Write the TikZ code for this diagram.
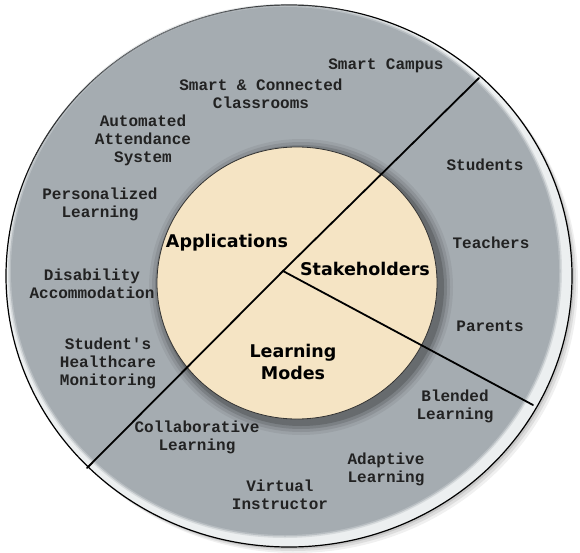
\documentclass[tikz,border=0pt]{standalone}
\usepackage{fontspec}
\newfontfamily\ringfont{Liberation Mono}
\newfontfamily\hubfont{DejaVu Sans}
\definecolor{ringgray}{RGB}{165,172,177}
\definecolor{hubbeige}{RGB}{245,228,196}
\definecolor{rimwhite}{RGB}{236,239,240}
\definecolor{inkdark}{RGB}{34,34,34}
\begin{document}
\begin{tikzpicture}[x=1pt,y=-1pt,
  item/.style={font=\ringfont\bfseries\fontsize{16}{18}\selectfont,text=inkdark,align=center,inner sep=0pt},
  hub/.style={font=\hubfont\bfseries\fontsize{17.5}{22}\selectfont,text=black,align=center,inner sep=0pt},
  spoke/.style={line width=1.8pt,line cap=round}]
  \useasboundingbox (0,0) rectangle (580,553);
  \foreach \s/\o in {6/0.06,4/0.08,2/0.1}
    \fill[black,opacity=\o] (289+\s,276+\s) ellipse [x radius=283,y radius=271];
  \fill[rimwhite,draw=black,line width=1.2pt] (289,276) ellipse [x radius=283,y radius=271];
  \foreach \s/\o in {3/0.3,1.5/0.6}
    \fill[ringgray,opacity=\o] (285,271) ellipse [x radius=274+\s,y radius=264+\s];
  \fill[ringgray] (285,271) ellipse [x radius=274,y radius=264];
  \foreach \s/\o in {12/0.06,9/0.09,6/0.12,3/0.16}
    \fill[black,opacity=\o] (301,287) ellipse [x radius=140+\s,y radius=136+\s];
  \fill[hubbeige,draw=black!80,line width=0.8pt] (297,283) ellipse [x radius=140,y radius=136];
  \coordinate (hub) at (283,271);
  \coordinate (ne) at (479,78);
  \coordinate (sw) at (87,468);
  \coordinate (se) at (533,405);
  \draw[spoke] (sw) -- (hub) -- (ne);
  \draw[spoke] (hub) -- (se);
  \node[item] (campus) at (386,66) {Smart Campus};
  \node[item] (classrooms) at (261,94) {Smart \& Connected\\Classrooms};
  \node[item] (attendance) at (143,140) {Automated\\Attendance\\System};
  \node[item] (personal) at (100,204) {Personalized\\Learning};
  \node[item] (disability) at (92,284) {Disability\\Accommodation};
  \node[item] (health) at (108,363) {Student's\\Healthcare\\Monitoring};
  \node[item] (students) at (485,165) {Students};
  \node[item] (teachers) at (491,243) {Teachers};
  \node[item] (parents) at (490,326) {Parents};
  \node[item] (blended) at (455,406) {Blended\\Learning};
  \node[item] (collab) at (197,437) {Collaborative\\Learning};
  \node[item] (adaptive) at (386,469) {Adaptive\\Learning};
  \node[item] (virtual) at (280,495) {Virtual\\Instructor};
  \node[hub] (apps) at (227,243) {Applications};
  \node[hub] (stake) at (365,269) {Stakeholders};
  \node[hub] (modes) at (293,362) {Learning\\Modes};
\end{tikzpicture}
\end{document}
